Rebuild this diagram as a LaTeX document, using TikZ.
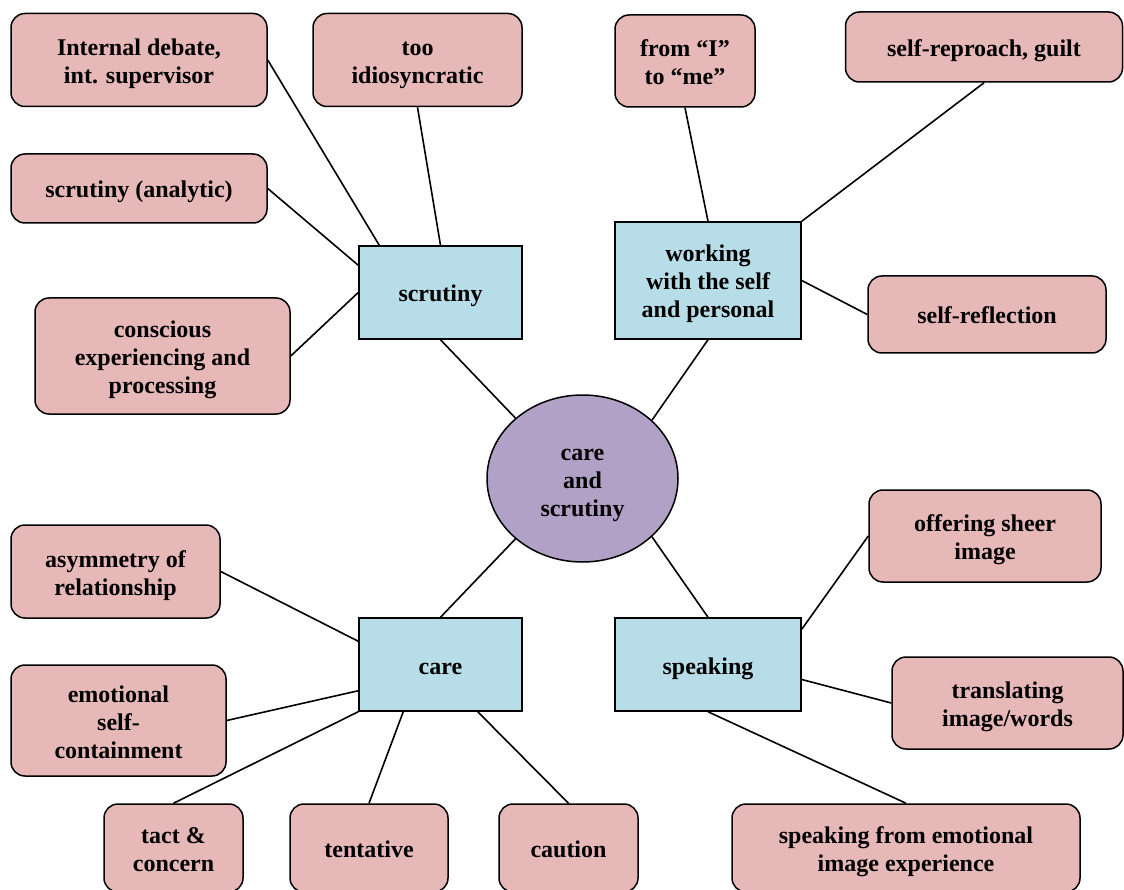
\documentclass[tikz,border=0pt]{standalone}
\usepackage{fontspec}
\setmainfont{Liberation Serif}
\usetikzlibrary{shapes.geometric}
\definecolor{leafpink}{HTML}{E6B8B7}
\definecolor{hubblue}{HTML}{B7DEE8}
\definecolor{corepurple}{HTML}{B2A1C7}
\newcommand\up{\rule{0pt}{27pt}}
\tikzset{
  boxtext/.style={align=center, inner sep=0pt,
    execute at begin node={\up}, execute at end node={\rule[-8pt]{0pt}{8pt}}},
  leaf/.style={draw, line width=1.5pt, fill=leafpink, rounded corners=14pt, boxtext},
  hub/.style={draw, line width=1.5pt, fill=hubblue, boxtext},
  core/.style={draw, ellipse, line width=1.5pt, fill=corepurple, boxtext},
  link/.style={line width=1.6pt}
}
\begin{document}
\begin{tikzpicture}[x=1pt,y=-1pt,font=\bfseries\fontsize{24}{28}\selectfont]
  \useasboundingbox (0,0) rectangle (1124,890);

  % centre and the four hubs
  \node[core, minimum width=191pt, minimum height=167pt] (cs) at (582.5,478.5) {\up care\\and\\scrutiny};
  \node[hub, minimum width=163pt, minimum height=93pt] (scr) at (440.5,292.5) {scrutiny};
  \node[hub, minimum width=186pt, minimum height=117pt] (work) at (708,280.5) {\up working\\with the self\\and personal};
  \node[hub, minimum width=163pt, minimum height=93pt] (care) at (440.5,664.5) {care};
  \node[hub, minimum width=186pt, minimum height=93pt] (speak) at (708,664.5) {speaking};

  % scrutiny
  \node[leaf, minimum width=256pt, minimum height=93pt] (debate) at (139,60) {\up Internal debate,\\int. supervisor};
  \node[leaf, minimum width=209pt, minimum height=93pt] (idio) at (417.5,60) {\up too\\idiosyncratic};
  \node[leaf, minimum width=256pt, minimum height=69pt] (analytic) at (139,188.5) {scrutiny (analytic)};
  \node[leaf, minimum width=255pt, minimum height=116pt] (conscious) at (162.5,356) {\up conscious\\experiencing and\\processing};

  % working with the self
  \node[leaf, minimum width=140pt, minimum height=92pt] (ime) at (685,61) {\up from “I”\\to “me”};
  \node[leaf, minimum width=277pt, minimum height=70pt] (guilt) at (984,47) {self-reproach, guilt};
  \node[leaf, minimum width=238pt, minimum height=77pt] (reflect) at (987,314.5) {self-reflection};

  % care
  \node[leaf, minimum width=209pt, minimum height=93pt] (asym) at (115.5,571.5) {\up asymmetry of\\relationship};
  \node[leaf, minimum width=215pt, minimum height=111pt] (contain) at (118.5,720.5) {\up emotional\\self-\\containment};
  \node[leaf, minimum width=139pt, minimum height=88pt] (tact) at (173.5,848) {\up tact \&\\concern};
  \node[leaf, minimum width=158pt, minimum height=88pt] (tent) at (369,848) {tentative};
  \node[leaf, minimum width=139pt, minimum height=88pt] (caut) at (568.5,848) {caution};

  % speaking
  \node[leaf, minimum width=232pt, minimum height=92pt] (sheer) at (985,536) {\up offering sheer\\image};
  \node[leaf, minimum width=231pt, minimum height=92pt] (transl) at (1007.5,703) {\up translating\\image/words};
  \node[leaf, minimum width=348pt, minimum height=88pt] (spfrom) at (906,848) {\up speaking from emotional\\image experience};

  \draw[link] (scr.south) -- (cs.138);
  \draw[link] (work.south) -- (cs.40);
  \draw[link] (cs.222) -- (care.north);
  \draw[link] (cs.-40) -- (speak.north);

  \draw[link] (debate.east) -- ([xshift=21pt]scr.north west);
  \draw[link] (idio.south) -- (scr.north);
  \draw[link] (analytic.east) -- ([yshift=-20pt]scr.north west);
  \draw[link] (conscious.east) -- (scr.west);

  \draw[link] (ime.south) -- (work.north);
  \draw[link] (guilt.south) -- (work.north east);
  \draw[link] (work.east) -- (reflect.west);

  \draw[link] (asym.east) -- ([yshift=-24pt]care.north west);
  \draw[link] (contain.east) -- ([yshift=21pt]care.south west);
  \draw[link] (tact.north) -- (care.south west);
  \draw[link] (tent.north) -- ([xshift=45pt]care.south west);
  \draw[link] (caut.north) -- ([xshift=-45pt]care.south east);

  \draw[link] ([yshift=-12pt]speak.north east) -- (sheer.west);
  \draw[link] ([yshift=-15pt]speak.east) -- (transl.west);
  \draw[link] (speak.south) -- (spfrom.north);
\end{tikzpicture}
\end{document}
